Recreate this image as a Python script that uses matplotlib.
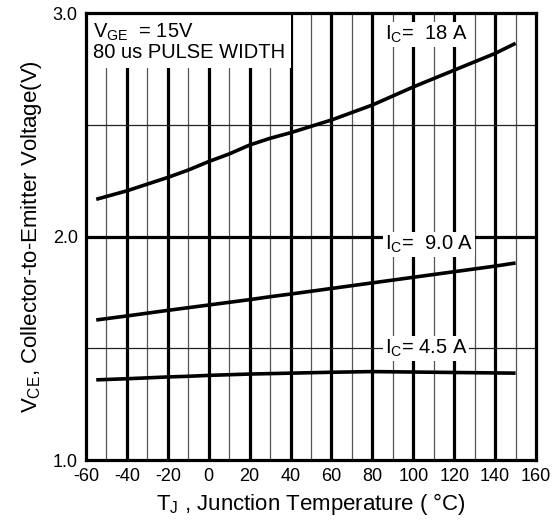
import numpy as np
import matplotlib.pyplot as plt

plt.rcParams['font.family'] = ['Liberation Sans', 'DejaVu Sans']
plt.rcParams['mathtext.fontset'] = 'custom'
plt.rcParams['mathtext.rm'] = 'Liberation Sans'
plt.rcParams['mathtext.it'] = 'Liberation Sans'

# data
tj = [-55, -40, -20, -10, 0, 10, 20, 30, 40, 60, 80, 100, 120, 140, 150]
vce_18 = [2.167, 2.205, 2.265, 2.298, 2.336, 2.370, 2.41, 2.44, 2.465, 2.522, 2.589,
          2.67, 2.745, 2.82, 2.865]
vce_9 = [1.627, 1.645, 1.670, 1.682, 1.694, 1.706, 1.718, 1.731, 1.743, 1.768, 1.793,
         1.818, 1.843, 1.868, 1.882]
vce_45 = [1.359, 1.364, 1.372, 1.375, 1.379, 1.382, 1.385, 1.387, 1.389, 1.393, 1.396,
          1.394, 1.392, 1.390, 1.389]

xticks = list(range(-60, 161, 20))
yticks = [1.0, 2.0, 3.0]

fig = plt.figure(figsize=(5.57, 5.27), dpi=100)
ax = fig.add_axes([0.1544, 0.127, 0.808, 0.848])
ax.set_xlim(-60, 160)
ax.set_ylim(1.0, 3.0)

for x in range(-50, 160, 20):
    ax.axvline(x, color='#555555', lw=0.9, zorder=1)
for x in range(-40, 160, 20):
    ax.axvline(x, color='black', lw=2.3, zorder=1)
for y in [1.5, 2.5]:
    ax.axhline(y, color='#222222', lw=0.9, zorder=1)
ax.axhline(2.0, color='black', lw=2.3, zorder=1)

for v in [vce_18, vce_9, vce_45]:
    ax.plot(tj, v, color='black', lw=2.6, zorder=3, solid_capstyle='butt')

box = dict(facecolor='white', edgecolor='none', pad=1.5)
ax.text(-56.5, 2.96, '$V_{GE}$  = 15V\n80 us PULSE WIDTH', fontsize=14.5,
        va='top', ha='left', linespacing=1.0, zorder=5,
        bbox=dict(facecolor='white', edgecolor='none', pad=4))
ax.text(86, 2.905, '$I_C$=  18 A', fontsize=14.5, ha='left', va='center', zorder=5, bbox=box)
ax.text(86, 1.965, '$I_C$=  9.0 A', fontsize=14.5, ha='left', va='center', zorder=5, bbox=box)
ax.text(86, 1.50, '$I_C$= 4.5 A', fontsize=14.5, ha='left', va='center', zorder=5, bbox=box)

ax.set_xticks(xticks)
ax.set_xticklabels([str(x) for x in xticks])
ax.set_yticks(yticks)
ax.set_yticklabels(['1.0', '2.0', '3.0'])
ax.tick_params(length=0, labelsize=13, pad=6)
for s in ax.spines.values():
    s.set_linewidth(2.3)
    s.set_zorder(6)

ax.set_xlabel('$T_J$ , Junction Temperature ( °C)', fontsize=16, labelpad=4)
ax.set_ylabel('$V_{CE}$, Collector-to-Emitter Voltage(V)', fontsize=16, labelpad=6)

fig.savefig('out.png', dpi=100)
